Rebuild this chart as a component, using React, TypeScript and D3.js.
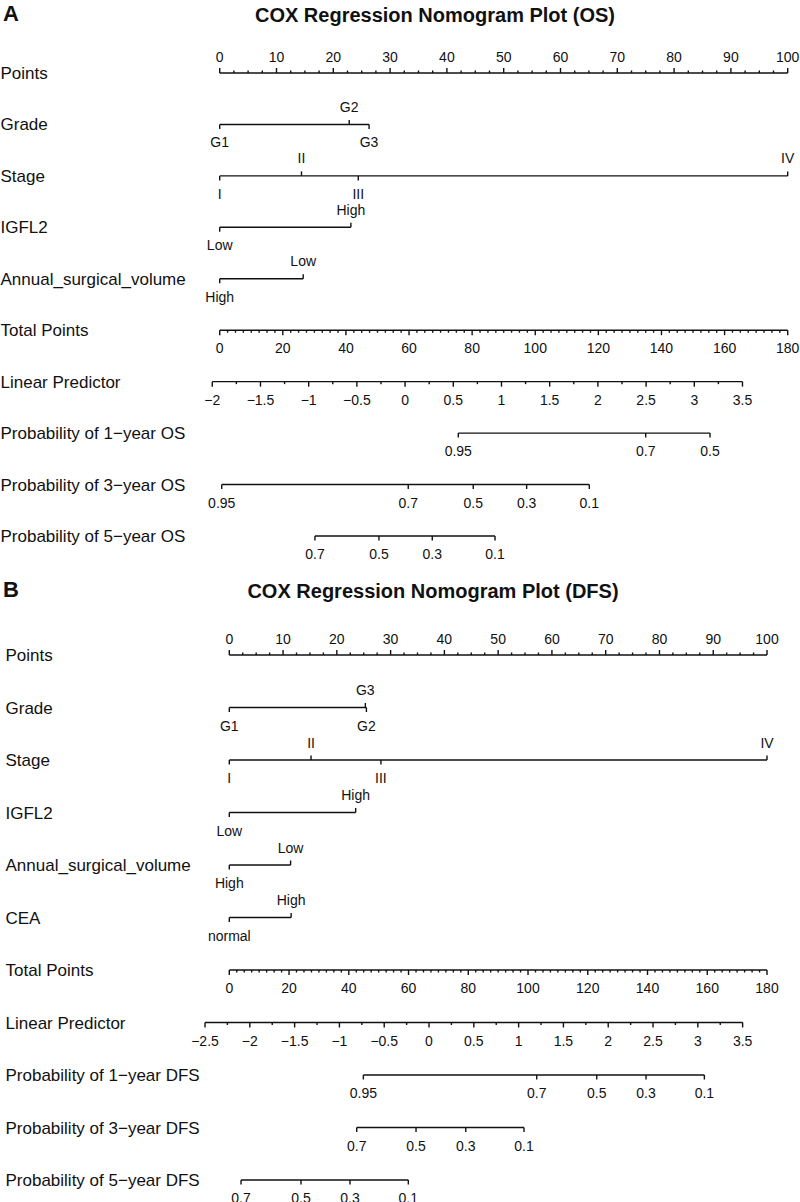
import React from "react";
import * as d3 from "d3";

// ---------------- Panel A (OS) data ----------------
const titleA = "COX Regression Nomogram Plot (OS)";
const gradeLevelsA = ["G1", "G2", "G3"];
const gradePointsA = [0, 22.8, 26.3];
const stageLevelsA = ["I", "II", "III", "IV"];
const stagePointsA = [0, 14.4, 24.4, 100];
const igfl2LevelsA = ["Low", "High"];
const igfl2PointsA = [0, 23.1];
const volumeLevelsA = ["High", "Low"];
const volumePointsA = [0, 14.7];
const lpTicksA = [-2, -1.5, -1, -0.5, 0, 0.5, 1, 1.5, 2, 2.5, 3, 3.5];
const lpAtTotalA = [-1.923, 3.969]; // linear predictor at total points 0 and 180
const os1ProbsA = [0.95, 0.7, 0.5];
const os1LpA = [0.552, 2.496, 3.163];
const os3ProbsA = [0.95, 0.7, 0.5, 0.3, 0.1];
const os3LpA = [-1.902, 0.033, 0.707, 1.261, 1.911];
const os5ProbsA = [0.7, 0.5, 0.3, 0.1];
const os5LpA = [-0.935, -0.271, 0.282, 0.933];

// ---------------- Panel B (DFS) data ----------------
const titleB = "COX Regression Nomogram Plot (DFS)";
const gradeLevelsB = ["G1", "G2", "G3"];
const gradePointsB = [0, 25.5, 25.3];
const stageLevelsB = ["I", "II", "III", "IV"];
const stagePointsB = [0, 15.2, 28.2, 100];
const igfl2LevelsB = ["Low", "High"];
const igfl2PointsB = [0, 23.5];
const volumeLevelsB = ["High", "Low"];
const volumePointsB = [0, 11.4];
const ceaLevelsB = ["normal", "High"];
const ceaPointsB = [0, 11.5];
const lpTicksB = [-2.5, -2, -1.5, -1, -0.5, 0, 0.5, 1, 1.5, 2, 2.5, 3, 3.5];
const lpAtTotalB = [-2.229, 3.772];
const dfs1ProbsB = [0.95, 0.7, 0.5, 0.3, 0.1];
const dfs1LpB = [-0.733, 1.202, 1.872, 2.422, 3.073];
const dfs3ProbsB = [0.7, 0.5, 0.3, 0.1];
const dfs3LpB = [-0.807, -0.145, 0.41, 1.06];
const dfs5ProbsB = [0.7, 0.5, 0.3, 0.1];
const dfs5LpB = [-2.098, -1.429, -0.882, -0.231];

// ---------------- shared tick labels ----------------
const pointsTicks = [0, 10, 20, 30, 40, 50, 60, 70, 80, 90, 100];
const totalTicks = [0, 20, 40, 60, 80, 100, 120, 140, 160, 180];

const FONT = "'Liberation Sans', Arial, Helvetica, sans-serif";
const INK = "#111";
const SW = 1.4;
const fmt = (v: number) => String(v).replace("-", "\u2212");

type Scale = d3.ScaleLinear<number, number>;

function RowLabel({ x, y, text }: { x: number; y: number; text: string }) {
  return (
    <text x={x} y={y + 6} fontSize={17} fontFamily={FONT} fill={INK}>
      {text}
    </text>
  );
}

function PointsAxis({ sc, y }: { sc: Scale; y: number }) {
  const minor = d3.range(0, 100.01, 2.5);
  return (
    <g>
      <line x1={sc(0)} x2={sc(100)} y1={y} y2={y} stroke={INK} strokeWidth={SW} />
      {minor.map((v) => {
        const major = pointsTicks.includes(v);
        return (
          <line key={v} x1={sc(v)} x2={sc(v)} y1={y} y2={y - (major ? 5 : 2.5)} stroke={INK} strokeWidth={SW} />
        );
      })}
      {pointsTicks.map((v) => (
        <text key={v} x={sc(v)} y={y - 11} textAnchor="middle" fontSize={14} fontFamily={FONT} fill={INK}>
          {fmt(v)}
        </text>
      ))}
    </g>
  );
}

function CatAxis({ sc, y, levels, points }: { sc: Scale; y: number; levels: string[]; points: number[] }) {
  const order = d3.range(levels.length).sort((a, b) => points[a] - points[b]);
  const side: number[] = [];
  order.forEach((idx, k) => (side[idx] = k % 2 === 0 ? 1 : -1));
  const [lo, hi] = d3.extent(points) as [number, number];
  return (
    <g>
      <line x1={sc(lo)} x2={sc(hi)} y1={y} y2={y} stroke={INK} strokeWidth={SW} />
      {levels.map((lv, i) => (
        <g key={lv}>
          <line x1={sc(points[i])} x2={sc(points[i])} y1={y} y2={y + side[i] * 4.5} stroke={INK} strokeWidth={SW} />
          <text
            x={sc(points[i])}
            y={side[i] > 0 ? y + 23 : y - 12.5}
            textAnchor="middle"
            fontSize={14}
            fontFamily={FONT}
            fill={INK}
          >
            {lv}
          </text>
        </g>
      ))}
    </g>
  );
}

function BottomAxis({ sc, y, ticks, minorStep }: { sc: Scale; y: number; ticks: number[]; minorStep: number }) {
  const lo = ticks[0];
  const hi = ticks[ticks.length - 1];
  const minor = d3.range(lo, hi + minorStep / 2, minorStep);
  return (
    <g>
      <line x1={sc(lo)} x2={sc(hi)} y1={y} y2={y} stroke={INK} strokeWidth={SW} />
      {minor.map((v, i) => {
        const major = ticks.some((t) => Math.abs(t - v) < 1e-9);
        return <line key={i} x1={sc(v)} x2={sc(v)} y1={y} y2={y + (major ? 5 : 2.5)} stroke={INK} strokeWidth={SW} />;
      })}
      {ticks.map((v) => (
        <text key={v} x={sc(v)} y={y + 23} textAnchor="middle" fontSize={14} fontFamily={FONT} fill={INK}>
          {fmt(v)}
        </text>
      ))}
    </g>
  );
}

function ProbAxis({ sc, y, probs, lps }: { sc: Scale; y: number; probs: number[]; lps: number[] }) {
  const [lo, hi] = d3.extent(lps) as [number, number];
  return (
    <g>
      <line x1={sc(lo)} x2={sc(hi)} y1={y} y2={y} stroke={INK} strokeWidth={SW} />
      {probs.map((p, i) => (
        <g key={p}>
          <line x1={sc(lps[i])} x2={sc(lps[i])} y1={y} y2={y + 4.5} stroke={INK} strokeWidth={SW} />
          <text x={sc(lps[i])} y={y + 23} textAnchor="middle" fontSize={14} fontFamily={FONT} fill={INK}>
            {fmt(p)}
          </text>
        </g>
      ))}
    </g>
  );
}

type CatVar = { name: string; levels: string[]; points: number[] };
type ProbVar = { name: string; probs: number[]; lps: number[] };

function Panel(props: {
  letter: string;
  title: string;
  titleX: number;
  titleY: number;
  labelX: number;
  x0: number;
  x1: number;
  y0: number;
  step: number;
  cats: CatVar[];
  lpTicks: number[];
  lpAtTotal: number[];
  probs: ProbVar[];
}) {
  const { letter, title, titleX, titleY, labelX, x0, x1, y0, step, cats, lpTicks, lpAtTotal, probs } = props;
  const xPts = d3.scaleLinear().domain([0, 100]).range([x0, x1]);
  const xTot = d3.scaleLinear().domain([0, 180]).range([x0, x1]);
  const xLp = d3.scaleLinear().domain(lpAtTotal).range([x0, x1]);
  const rowY = (i: number) => y0 + i * step;
  let r = 0;
  const yPoints = rowY(r++);
  const catRows = cats.map(() => rowY(r++));
  const yTotal = rowY(r++);
  const yLp = rowY(r++);
  const probRows = probs.map(() => rowY(r++));
  return (
    <g>
      <text x={3} y={titleY - 1} fontSize={22} fontWeight="bold" fontFamily={FONT} fill={INK}>
        {letter}
      </text>
      <text x={titleX} y={titleY} textAnchor="middle" fontSize={20} fontWeight="bold" fontFamily={FONT} fill={INK}>
        {title}
      </text>
      <RowLabel x={labelX} y={yPoints} text="Points" />
      <PointsAxis sc={xPts} y={yPoints} />
      {cats.map((c, i) => (
        <g key={c.name}>
          <RowLabel x={labelX} y={catRows[i]} text={c.name} />
          <CatAxis sc={xPts} y={catRows[i]} levels={c.levels} points={c.points} />
        </g>
      ))}
      <RowLabel x={labelX} y={yTotal} text="Total Points" />
      <BottomAxis sc={xTot} y={yTotal} ticks={totalTicks} minorStep={2.5} />
      <RowLabel x={labelX} y={yLp} text="Linear Predictor" />
      <BottomAxis sc={xLp} y={yLp} ticks={lpTicks} minorStep={0.25} />
      {probs.map((p, i) => (
        <g key={p.name}>
          <RowLabel x={labelX} y={probRows[i]} text={p.name} />
          <ProbAxis sc={xLp} y={probRows[i]} probs={p.probs} lps={p.lps} />
        </g>
      ))}
    </g>
  );
}

export default function App() {
  const catsA: CatVar[] = [
    { name: "Grade", levels: gradeLevelsA, points: gradePointsA },
    { name: "Stage", levels: stageLevelsA, points: stagePointsA },
    { name: "IGFL2", levels: igfl2LevelsA, points: igfl2PointsA },
    { name: "Annual_surgical_volume", levels: volumeLevelsA, points: volumePointsA },
  ];
  const probsA: ProbVar[] = [
    { name: "Probability of 1\u2212year OS", probs: os1ProbsA, lps: os1LpA },
    { name: "Probability of 3\u2212year OS", probs: os3ProbsA, lps: os3LpA },
    { name: "Probability of 5\u2212year OS", probs: os5ProbsA, lps: os5LpA },
  ];
  const catsB: CatVar[] = [
    { name: "Grade", levels: gradeLevelsB, points: gradePointsB },
    { name: "Stage", levels: stageLevelsB, points: stagePointsB },
    { name: "IGFL2", levels: igfl2LevelsB, points: igfl2PointsB },
    { name: "Annual_surgical_volume", levels: volumeLevelsB, points: volumePointsB },
    { name: "CEA", levels: ceaLevelsB, points: ceaPointsB },
  ];
  const probsB: ProbVar[] = [
    { name: "Probability of 1\u2212year DFS", probs: dfs1ProbsB, lps: dfs1LpB },
    { name: "Probability of 3\u2212year DFS", probs: dfs3ProbsB, lps: dfs3LpB },
    { name: "Probability of 5\u2212year DFS", probs: dfs5ProbsB, lps: dfs5LpB },
  ];
  return (
    <svg
      width={800}
      height={1202}
      style={{ position: "absolute", left: 0, top: 0, background: "#fff" }}
    >
      <rect x={0} y={0} width={800} height={1202} fill="#fff" />
      <Panel
        letter="A"
        title={titleA}
        titleX={435}
        titleY={21.5}
        labelX={0.5}
        x0={219.7}
        x1={787.7}
        y0={73}
        step={51.44}
        cats={catsA}
        lpTicks={lpTicksA}
        lpAtTotal={lpAtTotalA}
        probs={probsA}
      />
      <Panel
        letter="B"
        title={titleB}
        titleX={433}
        titleY={598}
        labelX={5.5}
        x0={229.3}
        x1={767}
        y0={655}
        step={52.5}
        cats={catsB}
        lpTicks={lpTicksB}
        lpAtTotal={lpAtTotalB}
        probs={probsB}
      />
    </svg>
  );
}
